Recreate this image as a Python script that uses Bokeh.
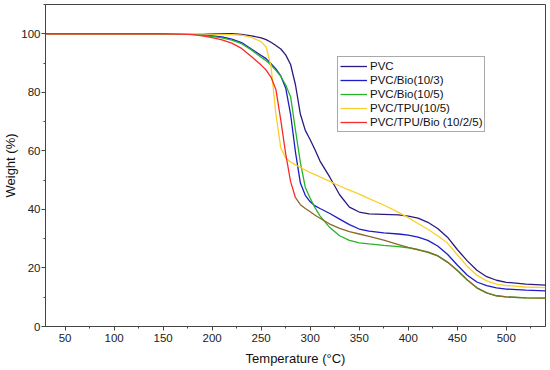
from bokeh.plotting import figure
from bokeh.models import Range1d, SingleIntervalTicker, Legend, LegendItem
from bokeh.embed import file_html
from bokeh.resources import INLINE

temperature = [30, 50, 100, 150, 170, 180, 190, 200, 210, 220, 230, 240, 250, 255, 260,
               265, 270, 275, 280, 285, 290, 295, 300, 305, 310, 320, 330, 340, 350, 360,
               375, 390, 400, 410, 420, 430, 440, 450, 460, 470, 480, 490, 500, 520, 540]

pvc = [100, 100, 100, 100, 100, 100, 100, 100, 100, 100, 99.8, 99.3, 98.6, 98.0, 97.1,
       96.0, 94.8, 92.8, 89.5, 82.5, 72.5, 67.0, 63.8, 60.3, 56.5, 51.0, 45.0, 40.8, 39.1, 38.5,
       38.3, 38.1, 37.7, 37.0, 35.6, 33.5, 30.5, 26.3, 22.5, 19.2, 17.0, 15.8, 15.1, 14.5, 14.1]

pvc_bio_10_3 = [100, 100, 100, 100, 100, 99.9, 99.6, 99.3, 98.9, 98.2, 97.0, 94.8, 92.6, 91.5, 89.8,
                88.0, 85.6, 81.5, 72.5, 59.5, 49.0, 44.8, 42.6, 41.2, 40.3, 38.6, 36.7, 34.8, 33.3, 32.6,
                32.0, 31.6, 31.2, 30.5, 29.4, 27.5, 24.7, 21.0, 17.6, 15.2, 14.0, 13.2, 12.8, 12.4, 12.2]

pvc_bio_10_5 = [100, 100, 100, 100, 100, 99.8, 99.5, 99.1, 98.6, 97.8, 96.6, 94.5, 92.0, 90.8, 89.3,
                87.5, 85.5, 82.5, 78.5, 67.0, 56.0, 47.5, 43.8, 40.5, 37.8, 33.8, 31.0, 29.4, 28.6, 28.2,
                27.7, 27.3, 26.9, 26.3, 25.5, 24.2, 22.0, 19.2, 16.0, 13.2, 11.5, 10.5, 10.1, 9.8, 9.7]

pvc_tpu_10_5 = [100, 100, 100, 100, 100, 100, 100, 99.9, 99.8, 99.7, 99.5, 98.8, 97.3, 95.5, 89.0,
                72.5, 61.0, 57.6, 56.2, 55.2, 54.4, 53.4, 52.6, 51.9, 51.1, 49.6, 48.0, 46.6, 45.2, 43.7,
                41.5, 39.0, 37.2, 35.2, 33.2, 31.0, 28.5, 24.5, 20.6, 17.5, 15.6, 14.5, 14.0, 13.5, 13.3]

pvc_tpu_bio = [100, 100, 100, 100, 99.9, 99.7, 99.3, 98.7, 97.9, 96.8, 95.0, 92.2, 89.3, 87.6, 85.2,
               81.0, 70.5, 59.0, 49.5, 44.0, 41.6, 40.3, 39.2, 38.0, 37.0, 35.0, 33.5, 32.4, 31.6, 30.8,
               29.5, 28.0, 27.0, 26.2, 25.3, 24.1, 22.0, 19.1, 16.0, 13.2, 11.5, 10.5, 10.1, 9.8, 9.7]

series_names = ["PVC", "PVC/Bio(10/3)", "PVC/Bio(10/5)", "PVC/TPU(10/5)", "PVC/TPU/Bio (10/2/5)"]
series_colors = ["#2b1a7e", "#1c1cc8", "#27b427", "#fbcf2c", "#fa2a2a"]
tail_color = "#8a6a2c"

FONT = "Liberation Sans"

p = figure(width=550, height=370, x_range=Range1d(30, 540), y_range=Range1d(0, 110),
           output_backend="svg", toolbar_location=None,
           min_border_left=44, min_border_right=5, min_border_top=4, min_border_bottom=44)

p.xgrid.visible = False
p.ygrid.visible = False
p.outline_line_color = "#444444"
p.outline_line_width = 1
p.background_fill_color = "white"
p.border_fill_color = "white"

p.xaxis.ticker = SingleIntervalTicker(interval=50, num_minor_ticks=2)
p.yaxis.ticker = SingleIntervalTicker(interval=20, num_minor_ticks=2)

for ax in (p.xaxis[0], p.yaxis[0]):
    ax.axis_line_color = "#444444"
    ax.major_tick_line_color = "#444444"
    ax.minor_tick_line_color = "#444444"
    ax.major_tick_in = 0
    ax.major_tick_out = 4
    ax.minor_tick_in = 0
    ax.minor_tick_out = 2
    ax.major_label_text_font = FONT
    ax.major_label_text_font_size = "11.5px"
    ax.major_label_text_color = "#222222"
    ax.axis_label_text_font = FONT
    ax.axis_label_text_font_size = "13px"
    ax.axis_label_text_font_style = "normal"
    ax.axis_label_text_color = "#111111"

p.xaxis.major_label_standoff = 3
p.xaxis.axis_label_standoff = 6
p.yaxis.major_label_standoff = 1
p.yaxis.axis_label_standoff = 0

p.xaxis.axis_label = "Temperature (°C)"
p.yaxis.axis_label = "Weight (%)"

all_series = [pvc, pvc_bio_10_3, pvc_bio_10_5, pvc_tpu_10_5, pvc_tpu_bio]
items = []
for name, vals, col in zip(series_names, all_series, series_colors):
    if name == "PVC/TPU/Bio (10/2/5)":
        k = temperature.index(285)
        r = p.line(temperature[:k + 1], vals[:k + 1], line_color=col, line_width=1.3)
        p.line(temperature[k:], vals[k:], line_color=tail_color, line_width=1.3)
    else:
        r = p.line(temperature, vals, line_color=col, line_width=1.3)
    items.append(LegendItem(label=name, renderers=[r]))

legend = Legend(items=items, location=(292, 194), margin=0, padding=2, spacing=0,
                label_height=14, glyph_height=14, glyph_width=27, label_standoff=3,
                label_text_font=FONT, label_text_font_size="11.5px", label_text_color="#111111",
                border_line_color="#555555", border_line_width=1,
                background_fill_color="white", background_fill_alpha=1)
p.add_layout(legend)

open("out.html", "w").write(file_html(p, INLINE))
